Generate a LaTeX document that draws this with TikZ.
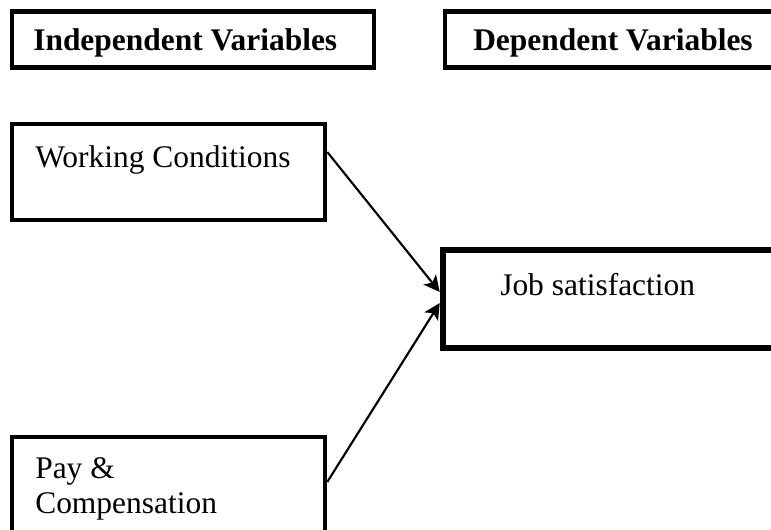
\documentclass[tikz,border=0pt]{standalone}
\usepackage{fontspec}
\setmainfont{Liberation Serif}
\usetikzlibrary{arrows.meta}
\begin{document}
\begin{tikzpicture}[x=0.75pt,y=-0.75pt,
  box/.style={draw, rectangle, line width=3.4pt, inner sep=0pt},
  thickbox/.style={box, line width=4.9pt},
  lbl/.style={anchor=base west, inner sep=0pt, font=\fontsize{23.6pt}{27pt}\selectfont},
  hdr/.style={lbl, font=\fontsize{23.6pt}{27pt}\selectfont\bfseries},
  arr/.style={line width=1.6pt, -{Stealth[length=12pt,width=12pt,inset=3pt]}}]
\useasboundingbox (0,0) rectangle (771,529);
\clip (0,0) rectangle (771,529);
\fill[white] (0,0) rectangle (771,529);
% header boxes
\node[box, minimum width=271.5pt, minimum height=42pt] (indep) at (193,39.5) {};
\node[box, minimum width=266.25pt, minimum height=42pt] (dep) at (622.5,39.5) {};
\node[hdr] (indeptext) at (33,50) {Independent Variables};
\node[hdr] (deptext) at (473,50.5) {Dependent Variables};
% variable boxes
\node[box, minimum width=234.75pt, minimum height=72pt] (wc) at (168.5,172) {};
\node[lbl] (wctext) at (35,167) {Working Conditions};
\node[thickbox, minimum width=267.75pt, minimum height=73.5pt] (job) at (621.5,299) {};
\node[lbl] (jobtext) at (500,295) {Job satisfaction};
\node[box, minimum width=234.75pt, minimum height=92.25pt] (pay) at (168.5,498.5) {};
\node[lbl] (paytext1) at (35,478) {Pay \&};
\node[lbl] (paytext2) at (35,513) {Compensation};
% connectors
\draw[arr] ([yshift=15pt]wc.east) -- ([yshift=5.25pt]job.west);
\draw[arr] ([yshift=12.4pt]pay.east) -- ([yshift=-3pt]job.west);
\end{tikzpicture}
\end{document}
